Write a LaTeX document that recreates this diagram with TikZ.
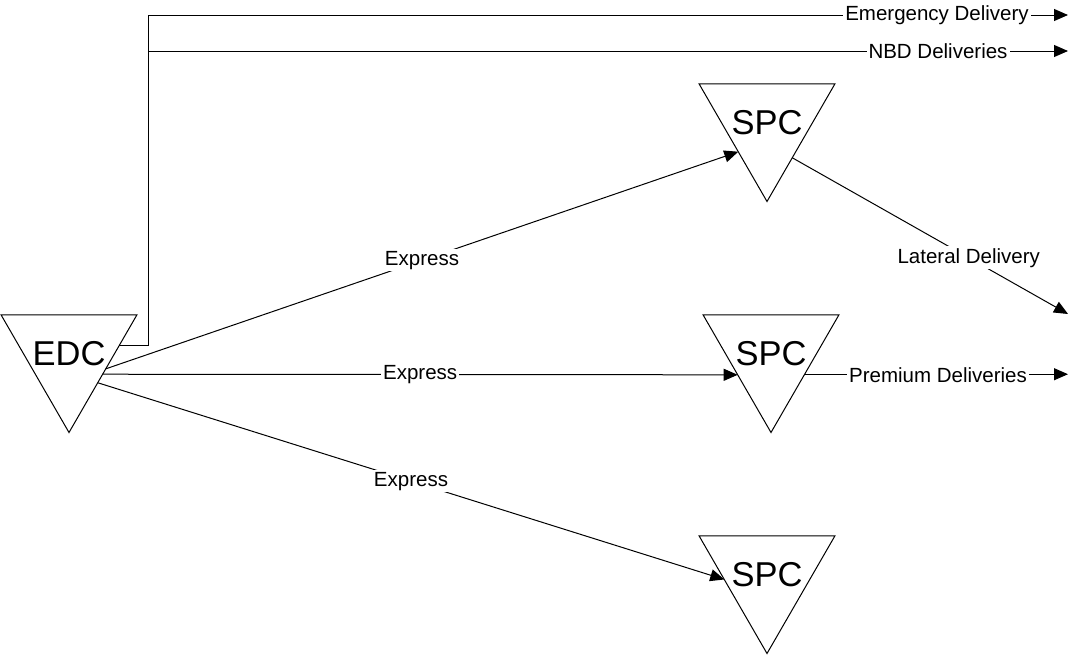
\documentclass[tikz,border=0pt]{standalone}
\usepackage{fontspec}
\setmainfont{Liberation Sans}
\usetikzlibrary{shapes.geometric,arrows.meta,calc}
\tikzset{
  hub/.style={draw=black, line width=1pt, regular polygon, regular polygon sides=3,
    shape border rotate=180, minimum size=157pt, inner sep=0pt, outer sep=0pt,
    label={[font=\fontsize{34.5}{40}\selectfont, inner sep=0pt]center:#1}},
  lbl/.style={fill=white, inner sep=2pt, font=\fontsize{20.5}{24}\selectfont},
  link/.style={line width=1pt, draw=black},
  arr/.style={link, -{Triangle[length=14pt,width=12pt]}},
}
\begin{document}
\begin{tikzpicture}[x=1pt,y=-1pt]
\useasboundingbox (0,0) rectangle (1073,656);
\node[hub=EDC] (edc) at (69,354) {};
\node[hub=SPC] (spcA) at (767,123) {};
\node[hub=SPC] (spcB) at (771,354) {};
\node[hub=SPC] (spcC) at (767,575) {};
\coordinate (trunk) at (148,345);
\coordinate (emEnd) at (1068,15);
\coordinate (nbdEnd) at (1068,51);
\coordinate (latEnd) at (1068,314);
\coordinate (premEnd) at (1068,375);
% top feeds
\draw[arr] (edc.10) -- (edc.10 -| trunk) |- (emEnd);
\draw[arr] (edc.10) -- (edc.10 -| trunk) |- (nbdEnd);
\node[lbl] (emLbl) at (937,15) {Emergency Delivery};
\node[lbl] (nbdLbl) at (938,51) {NBD Deliveries};
% express links
\draw[arr] (edc.-22.8) -- node[lbl] (ex1) {Express} (spcA.225);
\draw[arr] (edc.-31.7) -- node[lbl] (ex2) {Express} (spcB.212.5);
\draw[arr] (edc.-45) -- node[lbl] (ex3) {Express} (spcC.186.8);
% outgoing
\draw[arr] (spcA.-54.5) -- node[lbl, pos=0.64] (latLbl) {Lateral Delivery} (latEnd);
\draw[arr] (spcB.-31.7) -- (spcB.-31.7 -| premEnd);
\node[lbl] (premLbl) at (938,375) {Premium Deliveries};
\end{tikzpicture}
\end{document}
